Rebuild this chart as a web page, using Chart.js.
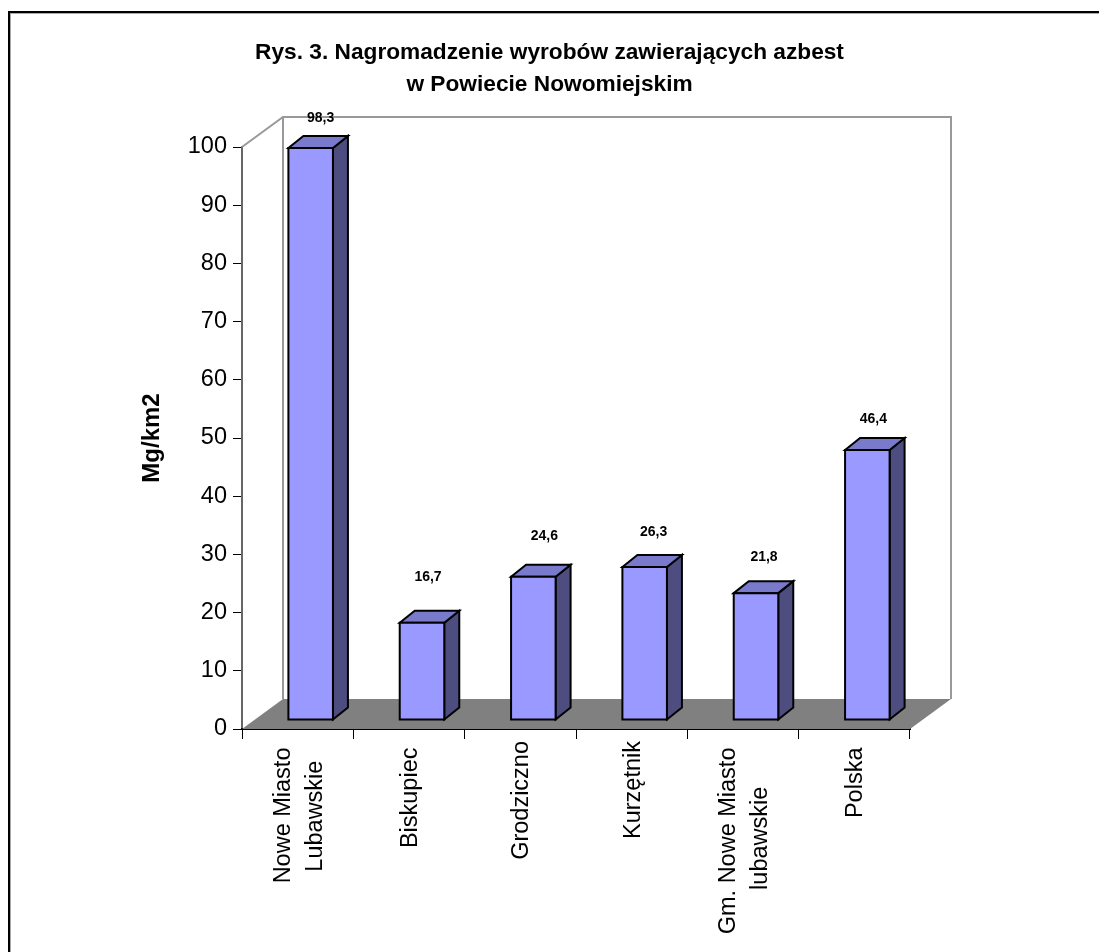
<!DOCTYPE html>
<html>
<head>
<meta charset="utf-8">
<title>Rys. 3</title>
<script src="https://cdn.jsdelivr.net/npm/chart.js@4"></script>
<style>
  html, body { margin: 0; padding: 0; background: #fff; }
  #wrap { position: relative; width: 1099px; height: 952px; overflow: hidden; }
  #frame { position: absolute; left: 8px; top: 11px; width: 1200px; height: 1200px; border: 2px solid #000; box-shadow: inset 1px 1px 0 #aaa; }
  canvas { position: absolute; left: 0; top: 0; }
</style>
</head>
<body>
<div id="wrap">
  <div id="frame"></div>
  <canvas id="asbestosChart" width="1099" height="952"></canvas>
</div>
<script>
const gminy = [['Nowe Miasto', 'Lubawskie'], 'Biskupiec', 'Grodziczno', 'Kurzętnik', ['Gm. Nowe Miasto', 'lubawskie'], 'Polska'];
const wartosci = [98.3, 16.7, 24.6, 26.3, 21.8, 46.4];
const titleLines = ['Rys. 3. Nagromadzenie wyrobów zawierających azbest', 'w Powiecie Nowomiejskim'];

// the data labels sit where they were dragged by hand in the original
const labelNudgeX = [10, 6, 11, 9, 8, 6];
const labelNudgeY = [-30, -46, -41, -35, -36, -31];
// trailing spaces per label line, pushes rotated text away from the axis
const tickPad = [[1, 3], [1], [0], [0], [1, 7], [1]];

// fake 3D
const WALL_DX = 41, WALL_DY = -30;
const BAR_DX = 13, BAR_DY = -9;
const BAR_DEPTH_X = 15, BAR_DEPTH_Y = -12;

function poly(ctx, pts) {
    ctx.beginPath();
    pts.forEach((p, i) => i ? ctx.lineTo(p[0], p[1]) : ctx.moveTo(p[0], p[1]));
    ctx.closePath();
}

const box3d = {
    id: 'box3d',
    // Chart.js hangs wrapped rotated labels from the first line, centre them on the tick instead
    afterUpdate(chart) {
        chart.scales.x.getLabelItems().forEach(item => {
            const lineCount = Array.isArray(item.label) ? item.label.length : 1;
            item.textOffset += 1.5 - 16 * (lineCount - 1);
        });
    },
    beforeDatasetsDraw(chart) {
        const { ctx, chartArea: a } = chart;
        ctx.save();
        // floor
        poly(ctx, [[a.left, a.bottom], [a.left + WALL_DX, a.bottom + WALL_DY],
                   [a.right + WALL_DX, a.bottom + WALL_DY], [a.right, a.bottom]]);
        ctx.fillStyle = '#808080';
        ctx.fill();
        // back wall outline
        ctx.strokeStyle = '#999999';
        ctx.lineWidth = 2;
        ctx.beginPath();
        ctx.moveTo(a.left, a.top);
        ctx.lineTo(a.left + WALL_DX, a.top + WALL_DY);
        ctx.lineTo(a.right + WALL_DX, a.top + WALL_DY);
        ctx.lineTo(a.right + WALL_DX, a.bottom + WALL_DY);
        ctx.moveTo(a.left + WALL_DX, a.top + WALL_DY);
        ctx.lineTo(a.left + WALL_DX, a.bottom + WALL_DY);
        ctx.stroke();
        ctx.restore();
    },
    // the bars keep their scale positions, only the faces are painted by hand
    beforeDatasetDraw(chart, args) {
        const { ctx } = chart;
        const meta = chart.getDatasetMeta(args.index);
        ctx.save();
        ctx.lineWidth = 2;
        ctx.strokeStyle = '#000';
        meta.data.forEach((bar, i) => {
            const x0 = bar.x - bar.width / 2 + BAR_DX;
            const x1 = bar.x + bar.width / 2 + BAR_DX;
            const yt = bar.y + BAR_DY;
            const yb = bar.base + BAR_DY;
            poly(ctx, [[x1, yt], [x1 + BAR_DEPTH_X, yt + BAR_DEPTH_Y], [x1 + BAR_DEPTH_X, yb + BAR_DEPTH_Y], [x1, yb]]);
            ctx.fillStyle = '#4d4d80';
            ctx.fill();
            ctx.stroke();
            poly(ctx, [[x0, yt], [x0 + BAR_DEPTH_X, yt + BAR_DEPTH_Y], [x1 + BAR_DEPTH_X, yt + BAR_DEPTH_Y], [x1, yt]]);
            ctx.fillStyle = '#7a7acc';
            ctx.fill();
            ctx.stroke();
            poly(ctx, [[x0, yt], [x1, yt], [x1, yb], [x0, yb]]);
            ctx.fillStyle = '#9999ff';
            ctx.fill();
            ctx.stroke();

            ctx.fillStyle = '#000';
            ctx.font = 'bold 14px "Liberation Sans"';
            ctx.textAlign = 'center';
            ctx.textBaseline = 'middle';
            ctx.fillText(String(wartosci[i]).replace('.', ','), x0 + bar.width / 2 + labelNudgeX[i], yt + labelNudgeY[i]);
        });
        ctx.restore();
        return false;
    }
};

new Chart(document.getElementById('asbestosChart'), {
    type: 'bar',
    data: {
        labels: gminy,
        datasets: [{
            label: 'Mg/km2',
            data: wartosci,
            backgroundColor: '#9999ff',
            borderColor: '#000',
            categoryPercentage: 0.4,
            barPercentage: 1
        }]
    },
    options: {
        responsive: false,
        animation: false,
        devicePixelRatio: 1,
        plugins: {
            legend: { display: false },
            tooltip: { enabled: false },
            title: {
                display: true,
                text: titleLines,
                color: '#000',
                font: { family: '"Liberation Sans"', size: 22.7, weight: 'bold', lineHeight: 1.41 },
                padding: { top: 37, bottom: 46 }
            }
        },
        scales: {
            y: {
                min: 0,
                max: 100,
                ticks: {
                    stepSize: 10,
                    color: '#000',
                    padding: 6,
                    font: { family: '"Liberation Sans"', size: 23.5 }
                },
                title: {
                    display: true,
                    text: 'Mg/km2',
                    color: '#000',
                    font: { family: '"Liberation Sans"', size: 24, weight: 'bold' },
                    padding: { top: 138, bottom: 0 }
                },
                grid: { drawOnChartArea: false, color: '#000', tickLength: 9, tickColor: '#000' },
                border: { color: '#666', width: 2 },
                afterFit(scale) { scale.width = 242; }
            },
            // empty axis, only holds the space right of the plot so the title stays centred on the page
            spare: {
                position: 'right',
                display: true,
                min: 0,
                max: 100,
                ticks: { display: false },
                grid: { display: false },
                border: { display: false },
                afterFit(scale) { scale.width = 189; }
            },
            x: {
                ticks: {
                    color: '#000',
                    minRotation: 90,
                    maxRotation: 90,
                    autoSkip: false,
                    padding: 2,
                    font: { family: '"Liberation Sans"', size: 23.5, lineHeight: 1.36 },
                    callback(value, i) {
                        const lines = [].concat(this.getLabelForValue(value));
                        return lines.map((line, j) => line + ' '.repeat(tickPad[i][j]));
                    }
                },
                grid: { drawOnChartArea: false, color: '#000', tickLength: 10, tickColor: '#000', offset: true },
                border: { color: '#000', width: 2 },
                afterFit(scale) { scale.height = 223; }
            }
        }
    },
    plugins: [box3d]
});
</script>
</body>
</html>
